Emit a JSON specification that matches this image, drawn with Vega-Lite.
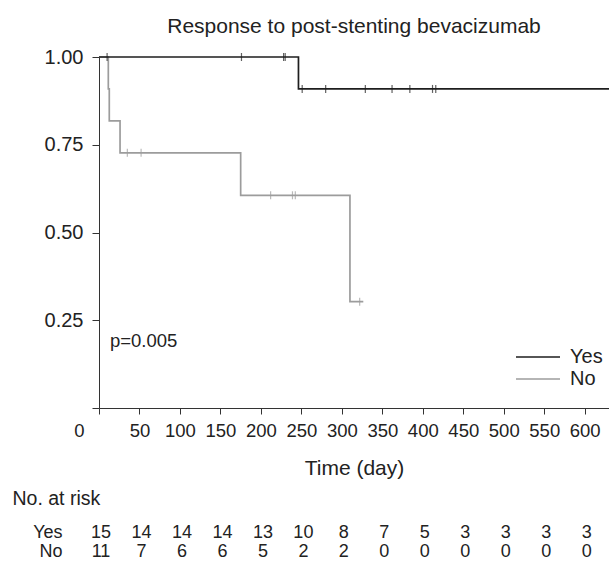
{
  "$schema": "https://vega.github.io/schema/vega-lite/v6.json",
  "padding": {"left": 12, "top": 16, "right": 0, "bottom": 0},
  "background": "white",
  "config": {
    "font": "Liberation Sans",
    "view": {"stroke": null},
    "axis": {"labelFont": "Liberation Sans", "titleFont": "Liberation Sans", "labelColor": "#222", "titleColor": "#222", "domainColor": "#333", "tickColor": "#333", "grid": false}
  },
  "datasets": {
    "km": [
      {"group": "No", "day": 0, "surv": 1.0},
      {"group": "No", "day": 11.5, "surv": 0.909},
      {"group": "No", "day": 12.7, "surv": 0.818},
      {"group": "No", "day": 26, "surv": 0.727},
      {"group": "No", "day": 175, "surv": 0.606},
      {"group": "No", "day": 310, "surv": 0.303},
      {"group": "No", "day": 326.5, "surv": 0.303},
      {"group": "Yes", "day": 0, "surv": 1.0},
      {"group": "Yes", "day": 246.4, "surv": 0.909},
      {"group": "Yes", "day": 630, "surv": 0.909}
    ],
    "censor": [
      {"group": "Yes", "day": 10, "surv": 1.0},
      {"group": "Yes", "day": 176, "surv": 1.0},
      {"group": "Yes", "day": 228, "surv": 1.0},
      {"group": "Yes", "day": 230, "surv": 1.0},
      {"group": "Yes", "day": 251, "surv": 0.909},
      {"group": "Yes", "day": 280, "surv": 0.909},
      {"group": "Yes", "day": 329, "surv": 0.909},
      {"group": "Yes", "day": 362, "surv": 0.909},
      {"group": "Yes", "day": 384, "surv": 0.909},
      {"group": "Yes", "day": 412, "surv": 0.909},
      {"group": "Yes", "day": 416, "surv": 0.909},
      {"group": "No", "day": 35, "surv": 0.727},
      {"group": "No", "day": 52, "surv": 0.727},
      {"group": "No", "day": 212, "surv": 0.606},
      {"group": "No", "day": 239, "surv": 0.606},
      {"group": "No", "day": 242.5, "surv": 0.606},
      {"group": "No", "day": 322, "surv": 0.303}
    ],
    "risk": [
      {"group": "Yes", "day": 0, "n": 15}, {"group": "Yes", "day": 50, "n": 14}, {"group": "Yes", "day": 100, "n": 14},
      {"group": "Yes", "day": 150, "n": 14}, {"group": "Yes", "day": 200, "n": 13}, {"group": "Yes", "day": 250, "n": 10},
      {"group": "Yes", "day": 300, "n": 8}, {"group": "Yes", "day": 350, "n": 7}, {"group": "Yes", "day": 400, "n": 5},
      {"group": "Yes", "day": 450, "n": 3}, {"group": "Yes", "day": 500, "n": 3}, {"group": "Yes", "day": 550, "n": 3},
      {"group": "Yes", "day": 600, "n": 3},
      {"group": "No", "day": 0, "n": 11}, {"group": "No", "day": 50, "n": 7}, {"group": "No", "day": 100, "n": 6},
      {"group": "No", "day": 150, "n": 6}, {"group": "No", "day": 200, "n": 5}, {"group": "No", "day": 250, "n": 2},
      {"group": "No", "day": 300, "n": 2}, {"group": "No", "day": 350, "n": 0}, {"group": "No", "day": 400, "n": 0},
      {"group": "No", "day": 450, "n": 0}, {"group": "No", "day": 500, "n": 0}, {"group": "No", "day": 550, "n": 0},
      {"group": "No", "day": 600, "n": 0}
    ]
  },
  "spacing": 9,
  "vconcat": [
    {
      "width": 510,
      "height": 351,
      "title": {"text": "Response to post-stenting bevacizumab", "fontSize": 21, "fontWeight": "normal", "color": "#222", "font": "Liberation Sans", "offset": 10},
      "layer": [
        {
          "data": {"name": "km"},
          "mark": {"type": "line", "interpolate": "step-after", "strokeWidth": 1.7},
          "encoding": {
            "x": {"field": "day", "type": "quantitative", "scale": {"domain": [0, 630], "nice": false},
              "axis": {"values": [0, 50, 100, 150, 200, 250, 300, 350, 400, 450, 500, 550, 600, 630],
                "labelExpr": "datum.value == 630 ? '' : datum.label",
                "labelOffset": {"condition": {"test": "datum.value === 0", "value": -20}, "value": 0},
                "labelFontSize": 18.5, "labelPadding": 7, "tickSize": 6, "title": "Time (day)", "titleFontSize": 21, "titleFontWeight": "normal", "titlePadding": 18, "labelFlush": false, "labelOverlap": false}},
            "y": {"field": "surv", "type": "quantitative", "scale": {"domain": [0, 1], "nice": false},
              "axis": {"values": [0, 0.25, 0.5, 0.75, 1], "labelExpr": "datum.value == 0 ? '' : format(datum.value, '.2f')",
                "labelFontSize": 20, "labelPadding": 9, "tickSize": 7, "title": null}},
            "color": {"field": "group", "type": "nominal",
              "scale": {"domain": ["Yes", "No"], "range": ["#1e1e1e", "#9c9c9c"]},
              "legend": {"orient": "none", "legendX": 429, "legendY": 290, "title": null, "symbolType": "M-4,0H4", "symbolSize": 121, "symbolStrokeWidth": 1.5, "labelFontSize": 20, "labelOffset": 22, "labelColor": "#222", "rowPadding": 2}}
          }
        },
        {
          "data": {"name": "censor"},
          "mark": {"type": "tick", "orient": "vertical", "size": 8, "thickness": 1.2},
          "encoding": {
            "x": {"field": "day", "type": "quantitative",
              "axis": {"values": [0, 50, 100, 150, 200, 250, 300, 350, 400, 450, 500, 550, 600, 630],
                "labelExpr": "datum.value == 630 ? '' : datum.label",
                "labelOffset": {"condition": {"test": "datum.value === 0", "value": -20}, "value": 0},
                "labelFontSize": 18.5, "labelPadding": 7, "tickSize": 6, "title": "Time (day)", "titleFontSize": 21, "titleFontWeight": "normal", "titlePadding": 18, "labelFlush": false, "labelOverlap": false}},
            "y": {"field": "surv", "type": "quantitative",
              "axis": {"values": [0, 0.25, 0.5, 0.75, 1], "labelExpr": "datum.value == 0 ? '' : format(datum.value, '.2f')",
                "labelFontSize": 20, "labelPadding": 9, "tickSize": 7, "title": null}},
            "color": {"field": "group", "type": "nominal", "legend": null}
          }
        },
        {
          "data": {"values": [{}]},
          "mark": {"type": "text", "text": "p=0.005", "align": "left", "baseline": "middle", "fontSize": 18.5, "color": "#222"},
          "encoding": {
            "x": {"datum": 13.5, "type": "quantitative",
              "axis": {"values": [0, 50, 100, 150, 200, 250, 300, 350, 400, 450, 500, 550, 600, 630],
                "labelExpr": "datum.value == 630 ? '' : datum.label",
                "labelOffset": {"condition": {"test": "datum.value === 0", "value": -20}, "value": 0},
                "labelFontSize": 18.5, "labelPadding": 7, "tickSize": 6, "title": "Time (day)", "titleFontSize": 21, "titleFontWeight": "normal", "titlePadding": 18, "labelFlush": false, "labelOverlap": false}},
            "y": {"datum": 0.19, "type": "quantitative",
              "axis": {"values": [0, 0.25, 0.5, 0.75, 1], "labelExpr": "datum.value == 0 ? '' : format(datum.value, '.2f')",
                "labelFontSize": 20, "labelPadding": 9, "tickSize": 7, "title": null}}
          }
        }
      ]
    },
    {
      "width": 510,
      "height": 38,
      "data": {"name": "risk"},
      "mark": {"type": "text", "fontSize": 18, "color": "#222", "dx": 2},
      "encoding": {
        "x": {"field": "day", "type": "quantitative", "scale": {"domain": [0, 630], "nice": false}, "axis": null},
        "y": {"field": "group", "type": "nominal", "scale": {"type": "point", "domain": ["Yes", "No"], "padding": 0.5},
          "axis": {"domain": false, "ticks": false, "labelFontSize": 18, "labelPadding": 37, "title": "No. at risk", "titleAngle": 0, "titleAlign": "left", "titleBaseline": "middle", "titleX": -87, "titleY": -25, "titleFontSize": 19.5, "titleFontWeight": "normal"}},
        "text": {"field": "n", "type": "quantitative"}
      }
    }
  ]
}
